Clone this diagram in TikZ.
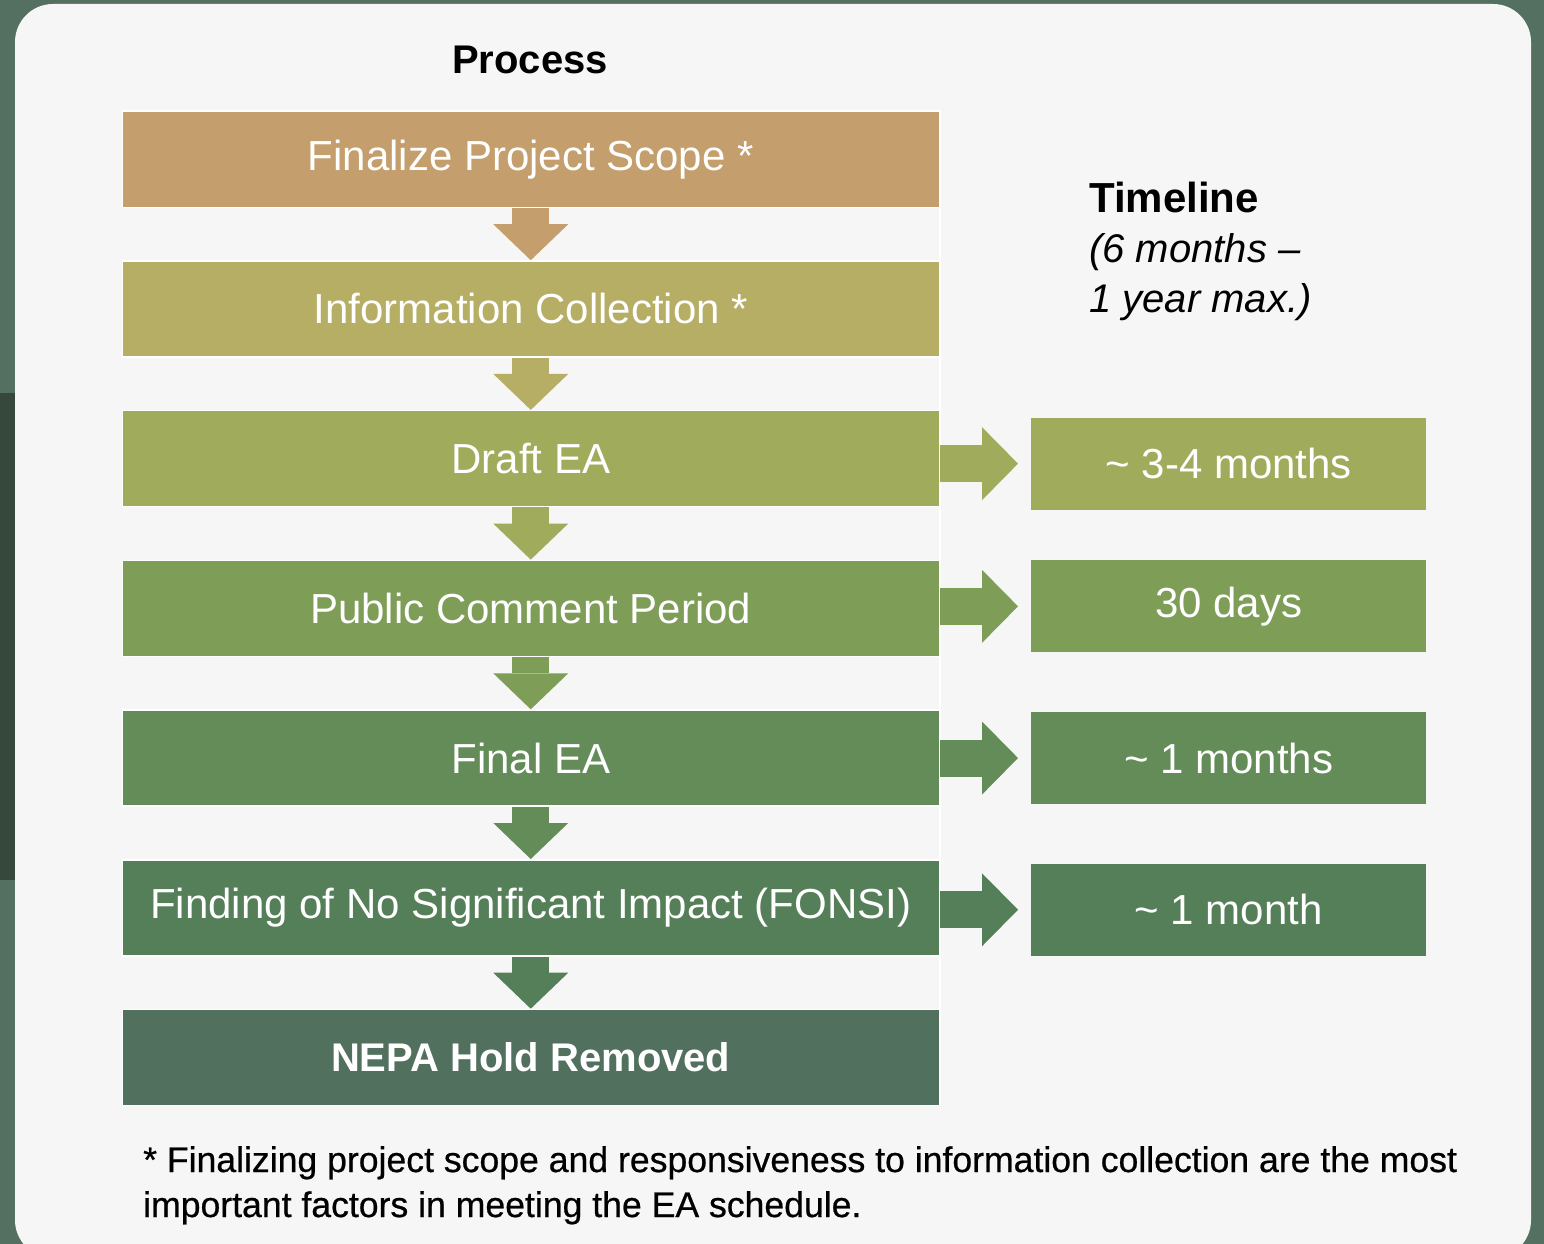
\documentclass[tikz,border=0pt]{standalone}
\usepackage{fontspec}
\setmainfont{Liberation Sans}
\newfontface\notefont{Liberation Sans}[FakeBold=0.6]
\usepackage{tikz}
\usetikzlibrary{positioning,arrows.meta}
\definecolor{panelbg}{RGB}{246,246,246}
\definecolor{framegreen}{RGB}{84,112,96}
\definecolor{framedark}{RGB}{54,72,60}
\definecolor{stepA}{RGB}{196,158,108}
\definecolor{stepB}{RGB}{183,174,101}
\definecolor{stepC}{RGB}{160,172,92}
\definecolor{stepD}{RGB}{126,158,88}
\definecolor{stepE}{RGB}{99,140,88}
\definecolor{stepF}{RGB}{85,127,89}
\definecolor{stepG}{RGB}{81,112,94}

\begin{document}
\begin{tikzpicture}[
    x=1pt, y=-1pt,
    stepbox/.style={rectangle, draw=white, line width=1.5pt, fill=#1,
                    minimum width=817pt, minimum height=96pt, inner sep=0pt,
                    text=white, font=\fontsize{42}{50}\selectfont},
    timebox/.style={rectangle, fill=#1, minimum width=395pt, minimum height=92pt,
                    inner sep=0pt, text=white, font=\fontsize{42}{50}\selectfont},
    downarrow/.style={draw=#1, line width=37pt,
                      -{Triangle[length=36pt,width=75pt,line width=0pt]}},
    sidearrow/.style={draw=#1, line width=37pt, shorten >=13pt,
                      -{Triangle[length=36pt,width=73pt,line width=0pt]}},
    node distance=52.2pt
]
\useasboundingbox (0,0) rectangle (1544,1244);
\clip (0,0) rectangle (1544,1244);
% backdrop and light panel
\fill[framegreen] (0,0) rectangle (1544,1244);
\fill[framedark] (0,393) rectangle (16,880);
\fill[panelbg, rounded corners=38pt] (15,4) rectangle (1531,1258);

\node[font=\fontsize{40}{48}\selectfont\bfseries] (head) at (530,60) {Process};

% process column
\node[stepbox=stepA, anchor=north west] (s1) at (121.5,110.5) {Finalize Project Scope *};
\node[stepbox=stepB, below=of s1] (s2) {Information Collection *};
\node[stepbox=stepC, below=of s2] (s3) {Draft EA};
\node[stepbox=stepD, below=of s3] (s4) {Public Comment Period};
\node[stepbox=stepE, below=of s4] (s5) {Final EA};
\node[stepbox=stepF, below=of s5] (s6) {Finding of No Significant Impact (FONSI)};
\node[stepbox=stepG, below=of s6, font=\fontsize{40}{48}\selectfont\bfseries] (s7) {NEPA Hold Removed};
\draw[white, line width=2pt] (s1.north east) -- (s7.south east);

% timeline column
\node[anchor=north west, align=left, inner sep=0pt, font=\fontsize{40}{50}\selectfont] (tl) at (1089,182)
    {{\fontsize{42}{50}\selectfont\bfseries Timeline}\\{\itshape (6 months –}\\{\itshape 1 year max.)}};
\node[timebox=stepC, right=91pt of s3, yshift=-5pt] (t1) {\textasciitilde{} 3-4 months};
\node[timebox=stepD, right=91pt of s4, yshift=2pt] (t2) {30 days};
\node[timebox=stepE, right=91pt of s5] (t3) {\textasciitilde{} 1 months};
\node[timebox=stepF, right=91pt of s6, yshift=-2pt] (t4) {\textasciitilde{} 1 month};

% arrows
\draw[downarrow=stepA] (s1) -- (s2);
\draw[downarrow=stepB] (s2) -- (s3);
\draw[downarrow=stepC] (s3) -- (s4);
\draw[downarrow=stepD] (s4) -- (s5);
\draw[downarrow=stepE] (s5) -- (s6);
\draw[downarrow=stepF] (s6) -- (s7);
\draw[sidearrow=stepC] (t1.west -| s3.east) -- (t1);
\draw[sidearrow=stepD] (t2.west -| s4.east) -- (t2);
\draw[sidearrow=stepE] (t3.west -| s5.east) -- (t3);
\draw[sidearrow=stepF] (t4.west -| s6.east) -- (t4);

\node[anchor=north west, align=left, inner sep=0pt, font=\notefont\fontsize{35.6}{45}\selectfont] (note) at (143,1146)
    {* Finalizing project scope and responsiveness to information collection are the most\\important factors in meeting the EA schedule.};
\end{tikzpicture}
\end{document}
